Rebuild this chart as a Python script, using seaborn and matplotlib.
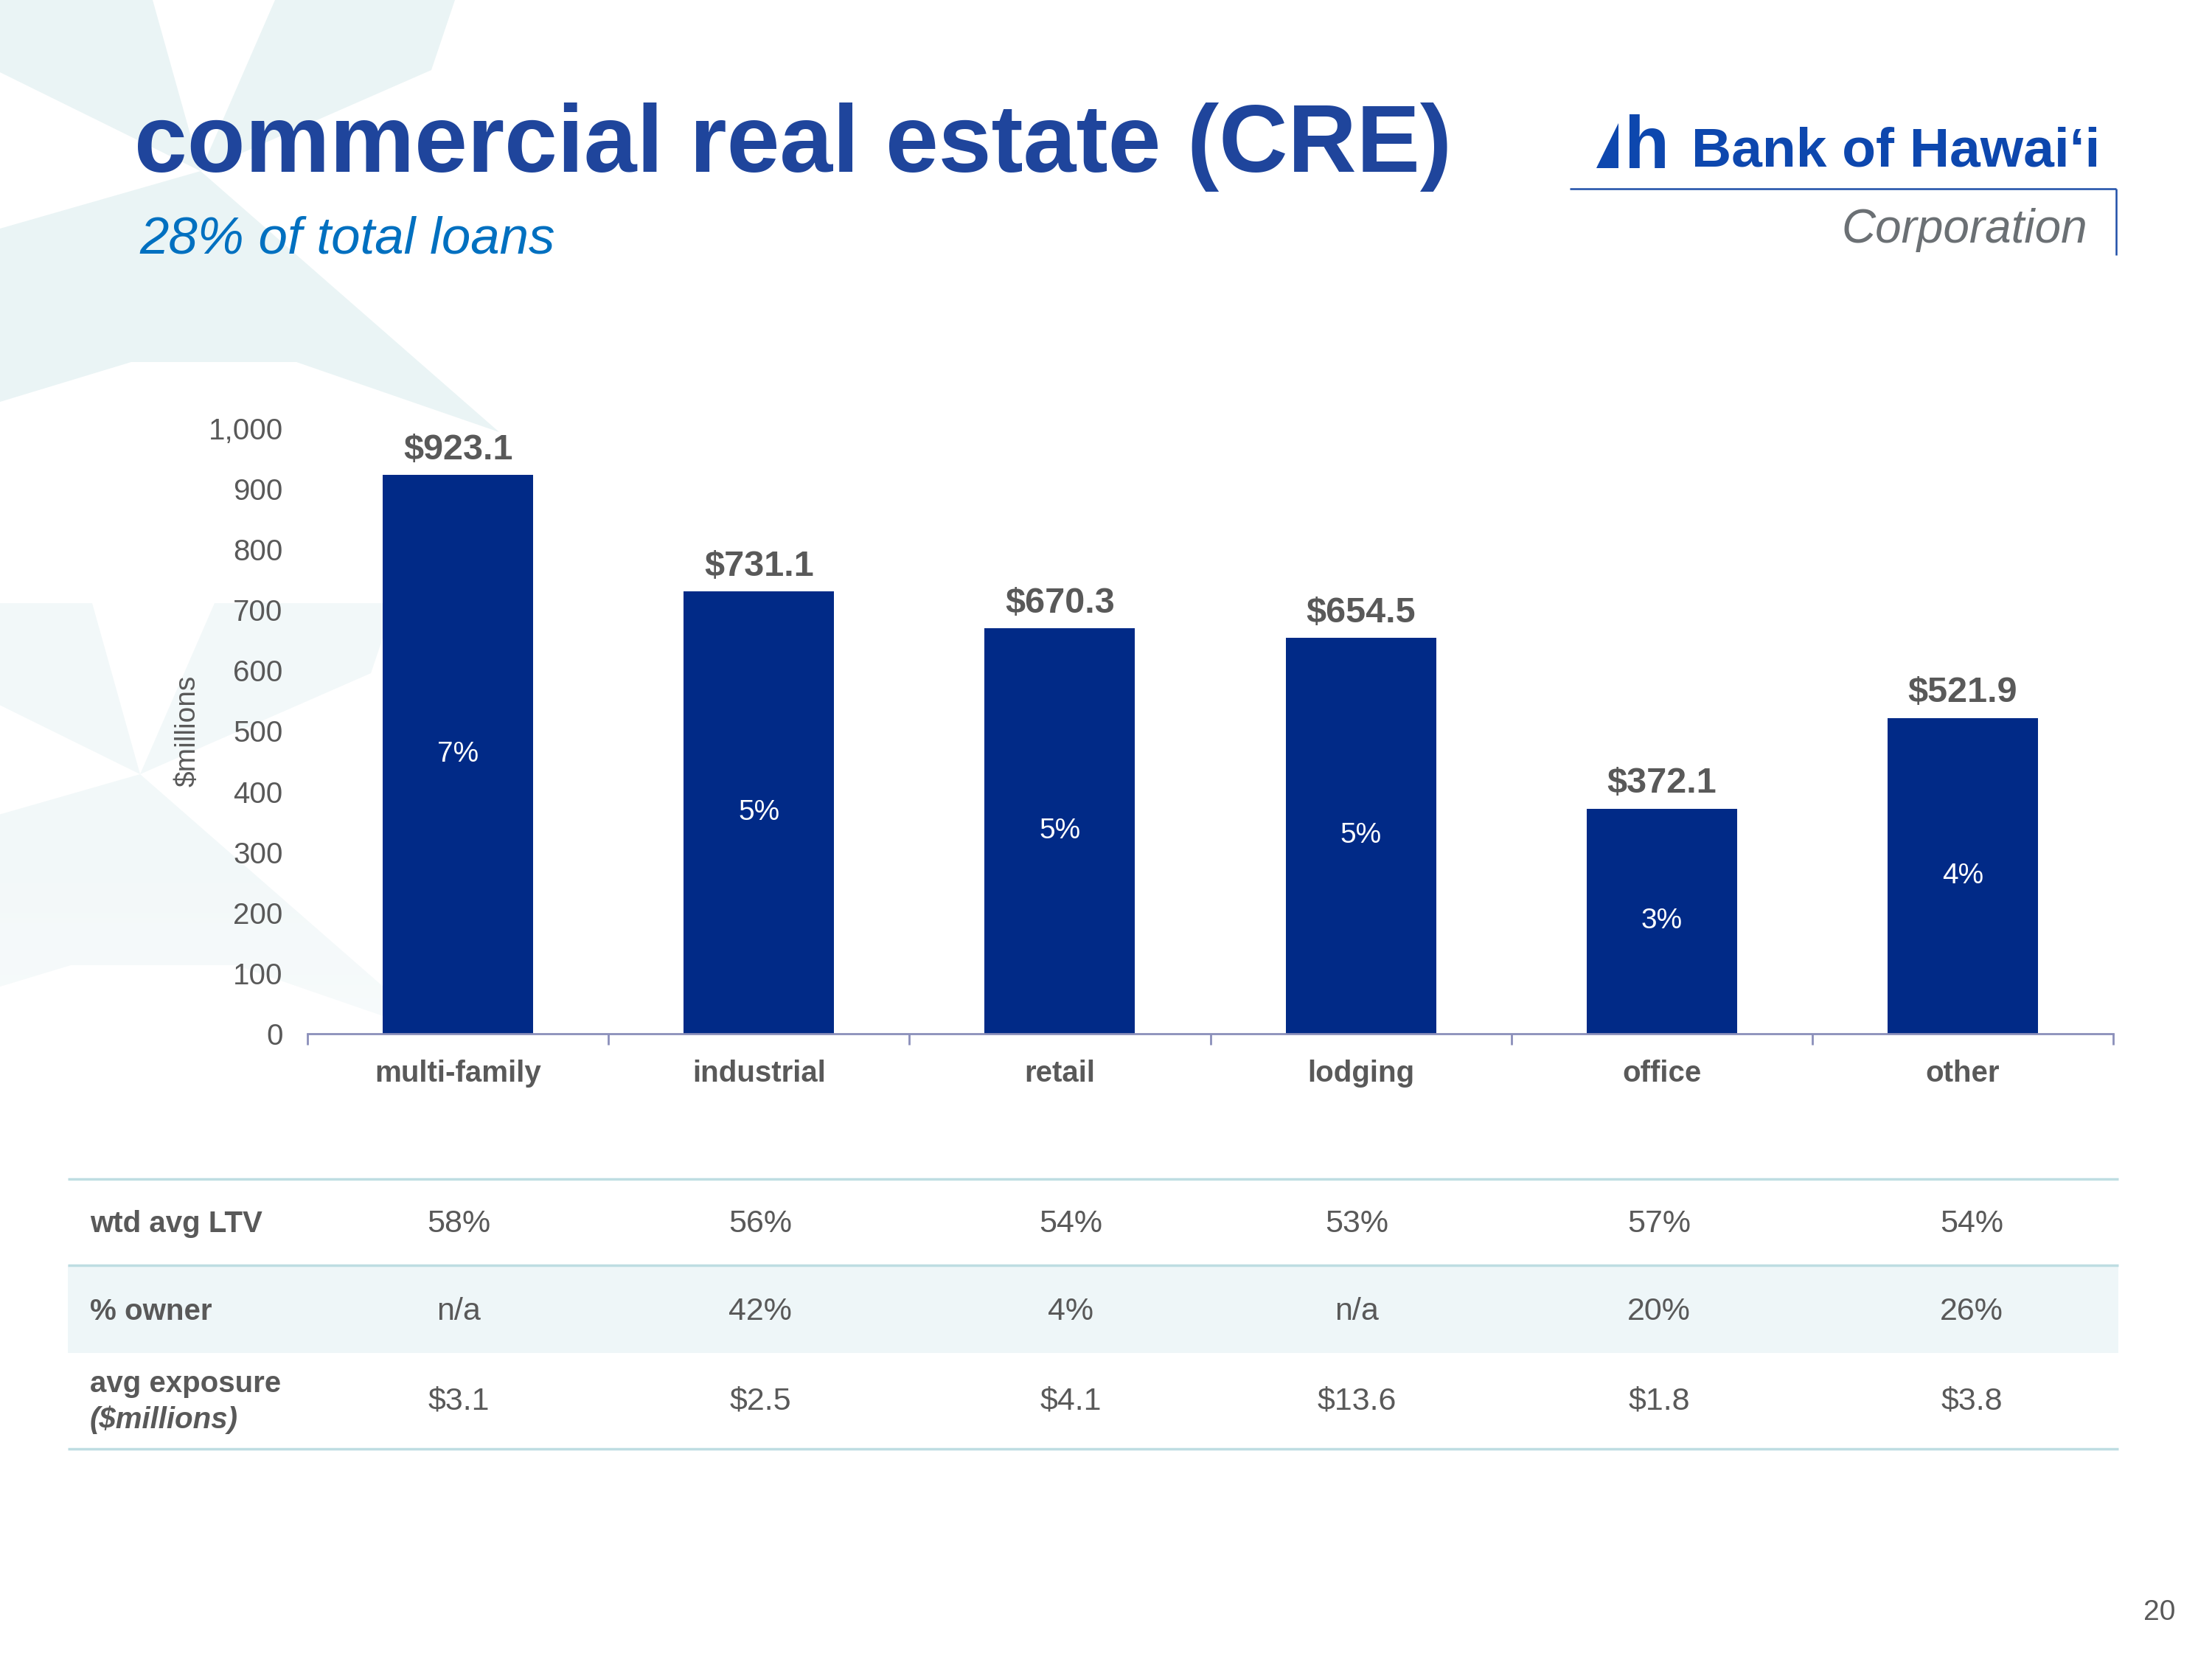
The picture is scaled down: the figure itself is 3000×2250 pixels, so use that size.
"""
Bank of Hawaii -- commercial real estate (CRE) loan mix slide
"""

import numpy as np
import matplotlib.pyplot as plt
import seaborn as sns
from matplotlib.patches import Polygon
from matplotlib.ticker import FuncFormatter

sns.set_theme(style="white")
plt.rcParams["font.family"] = ["Liberation Sans", "DejaVu Sans"]

# ---------------------------------------------------------------------------
# data
# ---------------------------------------------------------------------------
categories = ["multi-family", "industrial", "retail", "lodging", "office", "other"]
balances = [923.1, 731.1, 670.3, 654.5, 372.1, 521.9]          # $millions
share_of_loans = ["7%", "5%", "5%", "5%", "3%", "4%"]

row_labels = ["wtd avg LTV", "% owner", "avg exposure"]
wtd_avg_ltv = ["58%", "56%", "54%", "53%", "57%", "54%"]
pct_owner = ["n/a", "42%", "4%", "n/a", "20%", "26%"]
avg_exposure = ["$3.1", "$2.5", "$4.1", "$13.6", "$1.8", "$3.8"]

yticks = list(range(0, 1001, 100))

# colours
BAR = "#012a87"
GREY = "#595959"
TITLE = "#1f459c"
SUB = "#0070c0"
LOGO = "#0d47ae"
PALE = "#eaf4f5"
RULE = "#bedde2"
ROWBG = "#eef6f8"
AXIS = "#8b8fba"

W, H = 3000, 2250
fig = plt.figure(figsize=(30, 22.5), dpi=100)

# background layer in pixel coordinates (y down)
bg = fig.add_axes([0, 0, 1, 1], zorder=0)
bg.set_xlim(0, W); bg.set_ylim(H, 0); bg.axis("off")

# faint star decoration, top-left
star = [
    [(272, 232), (207, 0), (0, 0), (0, 98)],
    [(272, 232), (0, 310), (0, 545), (178, 491), (402, 491), (677, 586)],
    [(272, 232), (373, 0), (617, 0), (585, 95)],
]
for poly in star:
    bg.add_patch(Polygon(poly, closed=True, fc=PALE, ec="none", zorder=0))
# second, fainter star lower down, fading out towards the table
for poly in star:
    moved = [(x - 82, y + 818) for x, y in poly]
    bg.add_patch(Polygon(moved, closed=True, fc="#f2f8f9", ec="none", zorder=0))
fade = np.ones((256, 1, 4))
fade[:, 0, 3] = np.linspace(0, 1, 256)
bg.imshow(fade, extent=(0, 900, 1750, 1150), aspect="auto", zorder=0.5,
          interpolation="bilinear")
bg.set_xlim(0, W); bg.set_ylim(H, 0)

# ---------------------------------------------------------------------------
# titles + logo
# ---------------------------------------------------------------------------
bg.text(182, 233, "commercial real estate (CRE)", fontsize=93, fontweight="bold",
        color=TITLE, va="baseline", ha="left")
bg.text(189, 344, "28% of total loans", fontsize=51, style="italic",
        color=SUB, va="baseline", ha="left")

bg.add_patch(Polygon([(2165, 228), (2195, 228), (2195, 167)], closed=True,
                     fc=LOGO, ec="none", zorder=2))
bg.text(2234, 228, "h", fontsize=72, fontweight="bold", color=LOGO,
        va="baseline", ha="center",
        family=["Liberation Sans Narrow", "Liberation Sans", "DejaVu Sans"])
bg.text(2294, 226, "Bank of Hawaiʻi", fontsize=54, fontweight="bold", color=LOGO,
        va="baseline", ha="left", family=["Liberation Sans", "DejaVu Sans"])
bg.plot([2129, 2870], [256, 256], color="#1f4fa8", lw=1.8, solid_capstyle="butt")
bg.plot([2870, 2870], [256, 346], color="#1f4fa8", lw=1.8, solid_capstyle="butt")
bg.text(2831, 329, "Corporation", fontsize=46, style="italic", color="#6b7074",
        va="baseline", ha="right")

bg.text(2950, 2187, "20", fontsize=28, color=GREY, va="center", ha="right")

# ---------------------------------------------------------------------------
# bar chart
# ---------------------------------------------------------------------------
ax = fig.add_axes([417 / W, 1 - 1402 / H, (2866 - 417) / W, (1402 - 581) / H], zorder=1)
ax.patch.set_alpha(0)

sns.barplot(x=categories, y=balances, color=BAR, saturation=1, width=0.5,
            linewidth=0, ax=ax)

ax.set_ylim(0, 1000)
ax.set_xlim(-0.5, 5.5)
ax.set_yticks(yticks)
ax.yaxis.set_major_formatter(FuncFormatter(lambda v, p: f"{int(v):,}"))
ax.tick_params(axis="y", length=0, pad=24, labelsize=29, labelcolor=GREY)
ax.tick_params(axis="x", which="major", length=0, pad=25, labelsize=29, labelcolor=GREY)
for lab in ax.get_xticklabels():
    lab.set_fontweight("bold")
ax.set_xticks(np.arange(-0.5, 6, 1), minor=True)
ax.tick_params(axis="x", which="minor", bottom=True, length=11, width=2,
               color=AXIS, direction="out")

for s in ["left", "top", "right"]:
    ax.spines[s].set_visible(False)
ax.spines["bottom"].set_color(AXIS)
ax.spines["bottom"].set_linewidth(2)
ax.grid(False)

ax.set_xlabel("")
ax.set_ylabel("\\$millions", fontsize=28, color=GREY)
ax.yaxis.set_label_coords(-0.059, 0.5)

bars = ax.containers[0]
ax.bar_label(bars, labels=["\\$" + f"{v:.1f}" for v in balances], padding=8,
             fontsize=35, fontweight="bold", color=GREY)
ax.bar_label(bars, labels=share_of_loans, label_type="center",
             fontsize=28, color="white")

# ---------------------------------------------------------------------------
# stats table under the chart
# ---------------------------------------------------------------------------
col_x = [622, 1031, 1452, 1840, 2250, 2674]
x0, x1 = 92, 2873

bg.add_patch(plt.Rectangle((x0, 1716), x1 - x0, 1835 - 1716, fc=ROWBG, ec="none", zorder=1))
for y in [1599, 1716, 1965]:
    bg.plot([x0, x1], [y, y], color=RULE, lw=2.5, zorder=2, solid_capstyle="butt")

rows_y = [1660, 1779, 1901]
table_rows = [wtd_avg_ltv, pct_owner, avg_exposure]

bg.text(122, rows_y[0], row_labels[0], fontsize=29, fontweight="bold", color=GREY,
        va="center", ha="left", zorder=3)
bg.text(122, rows_y[1], row_labels[1], fontsize=29, fontweight="bold", color=GREY,
        va="center", ha="left", zorder=3)
bg.text(122, 1877, row_labels[2], fontsize=29, fontweight="bold", color=GREY,
        va="center", ha="left", zorder=3)
bg.text(122, 1926, "(\\$millions)", fontsize=29, fontweight="bold", style="italic",
        color=GREY, va="center", ha="left", zorder=3)

for y, row in zip(rows_y, table_rows):
    for x, val in zip(col_x, row):
        bg.text(x, y, val.replace("$", "\\$"), fontsize=31, color=GREY,
                va="center", ha="center", zorder=3)

plt.savefig("out.png", dpi=100)
plt.close()
